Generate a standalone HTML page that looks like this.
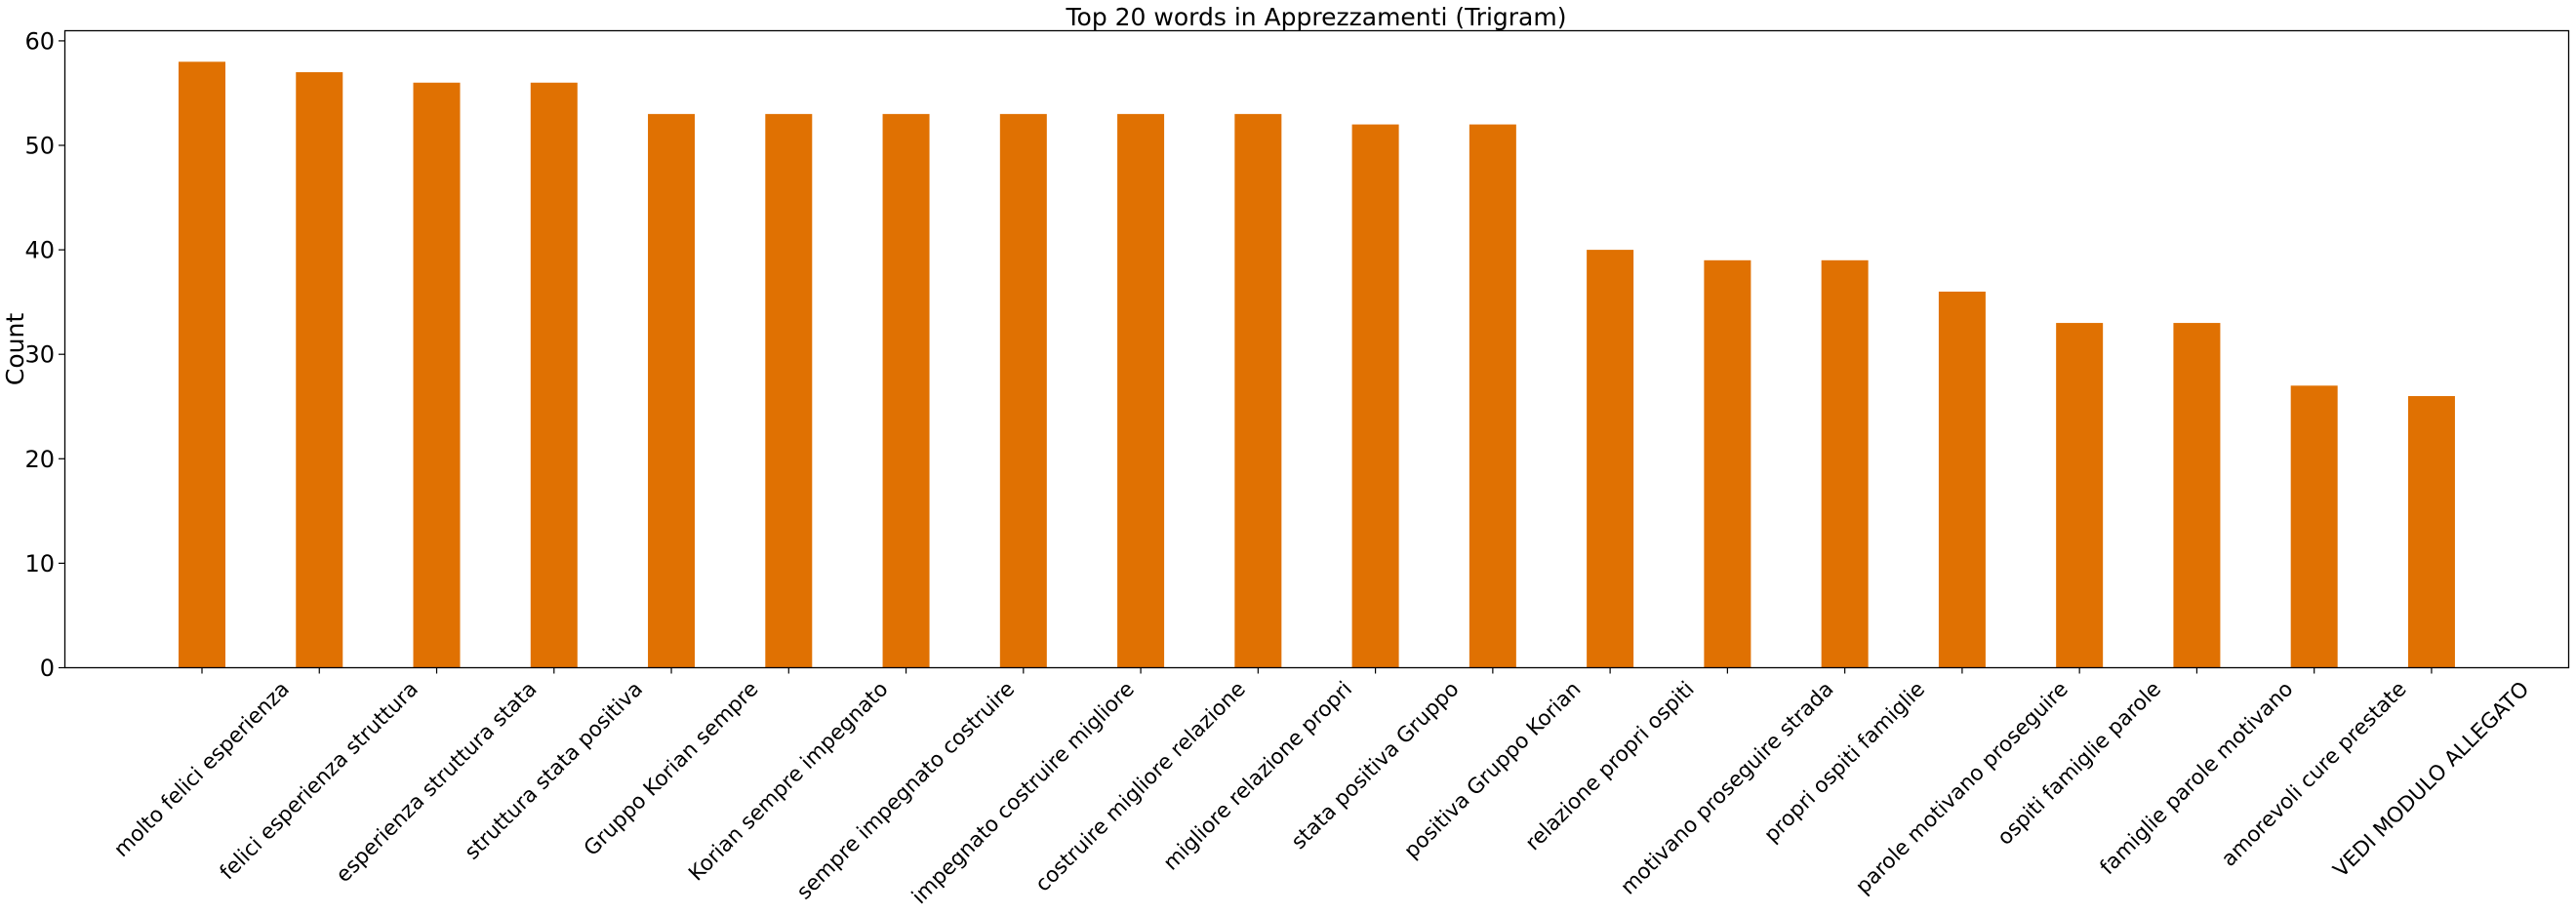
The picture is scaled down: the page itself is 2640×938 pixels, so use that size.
<!DOCTYPE html>
<html><head><meta charset="utf-8"><style>
html,body{margin:0;padding:0;background:#fff;}
svg{display:block;font-family:"DejaVu Sans","Liberation Sans",sans-serif;}
</style></head><body>
<svg id="chart" width="2640" height="938" viewBox="0 0 2640 938">
<text x="1349" y="26" font-size="25" text-anchor="middle" fill="#000">Top 20 words in Apprezzamenti (Trigram)</text>
<text transform="translate(24,358) rotate(-90)" font-size="25" text-anchor="middle" fill="#000">Count</text>
<g id="bars"></g>
<g id="yticks"></g>
<g id="xticks"></g>
<rect x="66.5" y="31.5" width="2566" height="653" fill="none" stroke="#000" stroke-width="1.3"/>
</svg>
<script>
const categories = ["molto felici esperienza","felici esperienza struttura","esperienza struttura stata","struttura stata positiva","Gruppo Korian sempre","Korian sempre impegnato","sempre impegnato costruire","impegnato costruire migliore","costruire migliore relazione","migliore relazione propri","stata positiva Gruppo","positiva Gruppo Korian","relazione propri ospiti","motivano proseguire strada","propri ospiti famiglie","parole motivano proseguire","ospiti famiglie parole","famiglie parole motivano","amorevoli cure prestate","VEDI MODULO ALLEGATO"];
const counts = [58,57,56,56,53,53,53,53,53,53,52,52,40,39,39,36,33,33,27,26];
const yTickValues = [0,10,20,30,40,50,60];

const NS = "http://www.w3.org/2000/svg";
const y0 = 684.5, perUnit = 10.71;
function yScale(v){ return y0 - v*perUnit; }
function xScale(i){ return 207 + 120.26*i; }
const barW = 48;
const bars = document.getElementById('bars');
const yt = document.getElementById('yticks');
const xt = document.getElementById('xticks');

counts.forEach((v,i)=>{
  const r = document.createElementNS(NS,'rect');
  r.setAttribute('x', xScale(i)-barW/2);
  r.setAttribute('y', yScale(v));
  r.setAttribute('width', barW);
  r.setAttribute('height', y0 - yScale(v));
  r.setAttribute('fill', '#e07102');
  
  
  bars.appendChild(r);
});

yTickValues.forEach(v=>{
  const y = yScale(v);
  const l = document.createElementNS(NS,'line');
  l.setAttribute('x1', 60); l.setAttribute('x2', 66.5);
  l.setAttribute('y1', y); l.setAttribute('y2', y);
  l.setAttribute('stroke', '#000'); l.setAttribute('stroke-width', '1.2');
  
  
  yt.appendChild(l);
  const t = document.createElementNS(NS,'text');
  t.setAttribute('x', 56); t.setAttribute('y', y+8.5);
  t.setAttribute('font-size', '24'); t.setAttribute('text-anchor', 'end');
  t.textContent = v;
  
  
  yt.appendChild(t);
});

categories.forEach((c,i)=>{
  const x = xScale(i);
  const l = document.createElementNS(NS,'line');
  l.setAttribute('x1', x); l.setAttribute('x2', x);
  l.setAttribute('y1', y0); l.setAttribute('y2', y0+6);
  l.setAttribute('stroke', '#000'); l.setAttribute('stroke-width', '1.2');
  
  
  xt.appendChild(l);
  const t = document.createElementNS(NS,'text');
  t.setAttribute('font-size', '21.5'); t.setAttribute('text-anchor', 'middle');
  t.setAttribute('dominant-baseline', 'central');
  t.textContent = c;
  
  
  xt.appendChild(t);
  const L = t.getComputedTextLength();
  const h = 24;
  const bh = (L + h) * Math.SQRT1_2;
  const cy = y0 + 10 + bh/2;
  t.setAttribute('transform', 'translate(' + x + ',' + cy + ') rotate(-45)');
});
</script>
</body></html>
